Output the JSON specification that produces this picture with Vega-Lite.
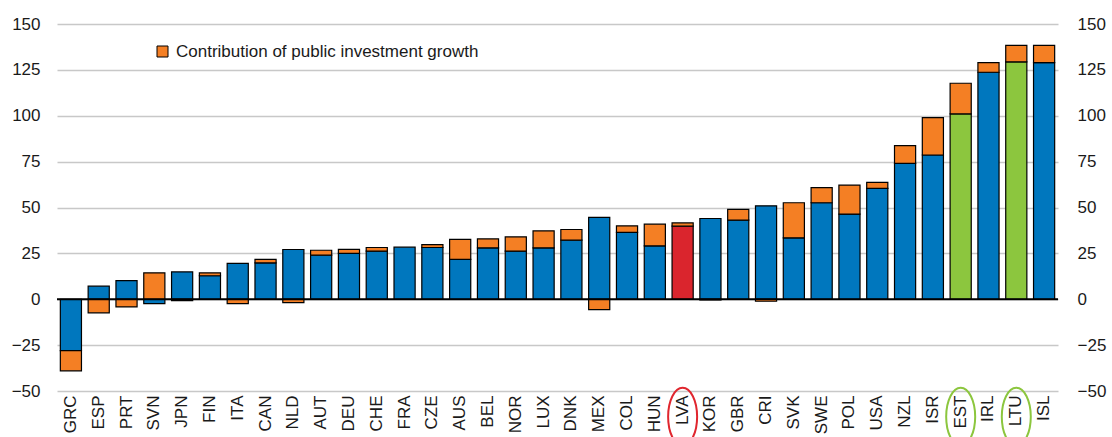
{
  "$schema": "https://vega.github.io/schema/vega-lite/v6.json",
  "width": 1001,
  "height": 367,
  "autosize": {"type": "none"},
  "padding": {"left": 57, "top": 24, "right": 54, "bottom": 46},
  "background": "white",
  "config": {
    "view": {"stroke": null},
    "font": "Liberation Sans",
    "axis": {"labelFont": "Liberation Sans", "labelColor": "#1a1a1a", "labelFontSize": 17},
    "legend": {"labelFont": "Liberation Sans", "labelColor": "#1a1a1a", "labelFontSize": 17, "labelLimit": 0}
  },
  "layer": [
    {
      "data": {
        "values": [
          {"c": "GRC", "part": "a", "v": -28, "g": "Other"},
          {"c": "GRC", "part": "b", "v": -11, "g": "Contribution of public investment growth"},
          {"c": "ESP", "part": "a", "v": 7.1, "g": "Other"},
          {"c": "ESP", "part": "b", "v": -7.4, "g": "Contribution of public investment growth"},
          {"c": "PRT", "part": "a", "v": 10.2, "g": "Other"},
          {"c": "PRT", "part": "b", "v": -4.2, "g": "Contribution of public investment growth"},
          {"c": "SVN", "part": "a", "v": -2.4, "g": "Other"},
          {"c": "SVN", "part": "b", "v": 14.4, "g": "Contribution of public investment growth"},
          {"c": "JPN", "part": "a", "v": 14.9, "g": "Other"},
          {"c": "JPN", "part": "b", "v": -0.8, "g": "Contribution of public investment growth"},
          {"c": "FIN", "part": "a", "v": 12.8, "g": "Other"},
          {"c": "FIN", "part": "b", "v": 1.6, "g": "Contribution of public investment growth"},
          {"c": "ITA", "part": "a", "v": 19.5, "g": "Other"},
          {"c": "ITA", "part": "b", "v": -2.4, "g": "Contribution of public investment growth"},
          {"c": "CAN", "part": "a", "v": 19.8, "g": "Other"},
          {"c": "CAN", "part": "b", "v": 1.9, "g": "Contribution of public investment growth"},
          {"c": "NLD", "part": "a", "v": 27.1, "g": "Other"},
          {"c": "NLD", "part": "b", "v": -1.8, "g": "Contribution of public investment growth"},
          {"c": "AUT", "part": "a", "v": 24.0, "g": "Other"},
          {"c": "AUT", "part": "b", "v": 2.7, "g": "Contribution of public investment growth"},
          {"c": "DEU", "part": "a", "v": 25.0, "g": "Other"},
          {"c": "DEU", "part": "b", "v": 2.2, "g": "Contribution of public investment growth"},
          {"c": "CHE", "part": "a", "v": 26.2, "g": "Other"},
          {"c": "CHE", "part": "b", "v": 2.0, "g": "Contribution of public investment growth"},
          {"c": "FRA", "part": "a", "v": 28.4, "g": "Other"},
          {"c": "CZE", "part": "a", "v": 28.2, "g": "Other"},
          {"c": "CZE", "part": "b", "v": 1.6, "g": "Contribution of public investment growth"},
          {"c": "AUS", "part": "a", "v": 21.7, "g": "Other"},
          {"c": "AUS", "part": "b", "v": 10.9, "g": "Contribution of public investment growth"},
          {"c": "BEL", "part": "a", "v": 28.0, "g": "Other"},
          {"c": "BEL", "part": "b", "v": 4.9, "g": "Contribution of public investment growth"},
          {"c": "NOR", "part": "a", "v": 26.2, "g": "Other"},
          {"c": "NOR", "part": "b", "v": 7.8, "g": "Contribution of public investment growth"},
          {"c": "LUX", "part": "a", "v": 28.0, "g": "Other"},
          {"c": "LUX", "part": "b", "v": 9.3, "g": "Contribution of public investment growth"},
          {"c": "DNK", "part": "a", "v": 32.2, "g": "Other"},
          {"c": "DNK", "part": "b", "v": 5.8, "g": "Contribution of public investment growth"},
          {"c": "MEX", "part": "a", "v": 44.6, "g": "Other"},
          {"c": "MEX", "part": "b", "v": -5.6, "g": "Contribution of public investment growth"},
          {"c": "COL", "part": "a", "v": 36.4, "g": "Other"},
          {"c": "COL", "part": "b", "v": 3.6, "g": "Contribution of public investment growth"},
          {"c": "HUN", "part": "a", "v": 29.1, "g": "Other"},
          {"c": "HUN", "part": "b", "v": 11.8, "g": "Contribution of public investment growth"},
          {"c": "LVA", "part": "a", "v": 39.8, "g": "Latvia"},
          {"c": "LVA", "part": "b", "v": 1.8, "g": "Contribution of public investment growth"},
          {"c": "KOR", "part": "a", "v": 44.0, "g": "Other"},
          {"c": "KOR", "part": "b", "v": -0.4, "g": "Contribution of public investment growth"},
          {"c": "GBR", "part": "a", "v": 43.1, "g": "Other"},
          {"c": "GBR", "part": "b", "v": 5.9, "g": "Contribution of public investment growth"},
          {"c": "CRI", "part": "a", "v": 50.9, "g": "Other"},
          {"c": "CRI", "part": "b", "v": -1.1, "g": "Contribution of public investment growth"},
          {"c": "SVK", "part": "a", "v": 33.5, "g": "Other"},
          {"c": "SVK", "part": "b", "v": 19.1, "g": "Contribution of public investment growth"},
          {"c": "SWE", "part": "a", "v": 52.6, "g": "Other"},
          {"c": "SWE", "part": "b", "v": 8.2, "g": "Contribution of public investment growth"},
          {"c": "POL", "part": "a", "v": 46.4, "g": "Other"},
          {"c": "POL", "part": "b", "v": 15.8, "g": "Contribution of public investment growth"},
          {"c": "USA", "part": "a", "v": 60.4, "g": "Other"},
          {"c": "USA", "part": "b", "v": 3.3, "g": "Contribution of public investment growth"},
          {"c": "NZL", "part": "a", "v": 74.1, "g": "Other"},
          {"c": "NZL", "part": "b", "v": 9.6, "g": "Contribution of public investment growth"},
          {"c": "ISR", "part": "a", "v": 78.6, "g": "Other"},
          {"c": "ISR", "part": "b", "v": 20.4, "g": "Contribution of public investment growth"},
          {"c": "EST", "part": "a", "v": 101.0, "g": "Baltic"},
          {"c": "EST", "part": "b", "v": 16.7, "g": "Contribution of public investment growth"},
          {"c": "IRL", "part": "a", "v": 123.7, "g": "Other"},
          {"c": "IRL", "part": "b", "v": 5.3, "g": "Contribution of public investment growth"},
          {"c": "LTU", "part": "a", "v": 129.4, "g": "Baltic"},
          {"c": "LTU", "part": "b", "v": 8.9, "g": "Contribution of public investment growth"},
          {"c": "ISL", "part": "a", "v": 129.0, "g": "Other"},
          {"c": "ISL", "part": "b", "v": 9.3, "g": "Contribution of public investment growth"}
        ]
      },
      "mark": {"type": "bar", "stroke": "black", "strokeWidth": 1.2},
      "encoding": {
        "x": {
          "field": "c", "type": "nominal", "sort": null,
          "scale": {"paddingInner": 0.24, "paddingOuter": 0.12},
          "axis": {"title": null, "labelAngle": -90, "ticks": false, "domain": false, "labelPadding": 4, "grid": false}
        },
        "y": {
          "field": "v", "type": "quantitative", "stack": "zero",
          "scale": {"domain": [-50, 150], "nice": false, "zero": false},
          "axis": {"orient": "left", "title": null, "values": [-50, -25, 0, 25, 50, 75, 100, 125, 150], "grid": true, "gridColor": "#c8c8c8", "gridWidth": 1.5, "ticks": false, "domain": false, "labelPadding": 17}
        },
        "color": {
          "field": "g", "type": "nominal",
          "scale": {"domain": ["Contribution of public investment growth", "Other", "Latvia", "Baltic"], "range": ["#F47F24", "#0077BE", "#DA252D", "#8CC63E"]},
          "legend": {"values": ["Contribution of public investment growth"], "title": null, "orient": "none", "legendX": 97, "legendY": 19, "symbolType": "square", "symbolSize": 121, "symbolStrokeColor": "black", "symbolStrokeWidth": 1, "labelOffset": 5, "labelLimit": 0}
        },
        "order": {"field": "part", "sort": "ascending"}
      }
    },
    {
      "data": {"values": [{"z": 0}]},
      "mark": {"type": "rule", "color": "black", "strokeWidth": 2},
      "encoding": {
        "y": {
          "datum": 0, "type": "quantitative",
          "axis": {"orient": "right", "title": null, "values": [-50, -25, 0, 25, 50, 75, 100, 125, 150], "grid": false, "ticks": false, "domain": false, "labelPadding": 19, "labelAlign": "left"}
        }
      }
    },
    {
      "data": {"values": [{"c": "LVA", "ring": "r"}, {"c": "EST", "ring": "g"}, {"c": "LTU", "ring": "g"}]},
      "mark": {"type": "point", "shape": "M -0.5 0 A 0.5 1 0 1 0 0.5 0 A 0.5 1 0 1 0 -0.5 0 Z", "filled": false, "strokeWidth": 2, "size": 3364, "clip": false, "opacity": 1},
      "encoding": {
        "x": {"field": "c", "type": "nominal", "sort": null},
        "y": {"datum": -64, "type": "quantitative", "axis": null},
        "stroke": {"field": "ring", "type": "nominal", "scale": {"domain": ["r", "g"], "range": ["#E0262E", "#8CC63E"]}, "legend": null}
      }
    }
  ],
  "resolve": {"axis": {"y": "independent"}}
}
